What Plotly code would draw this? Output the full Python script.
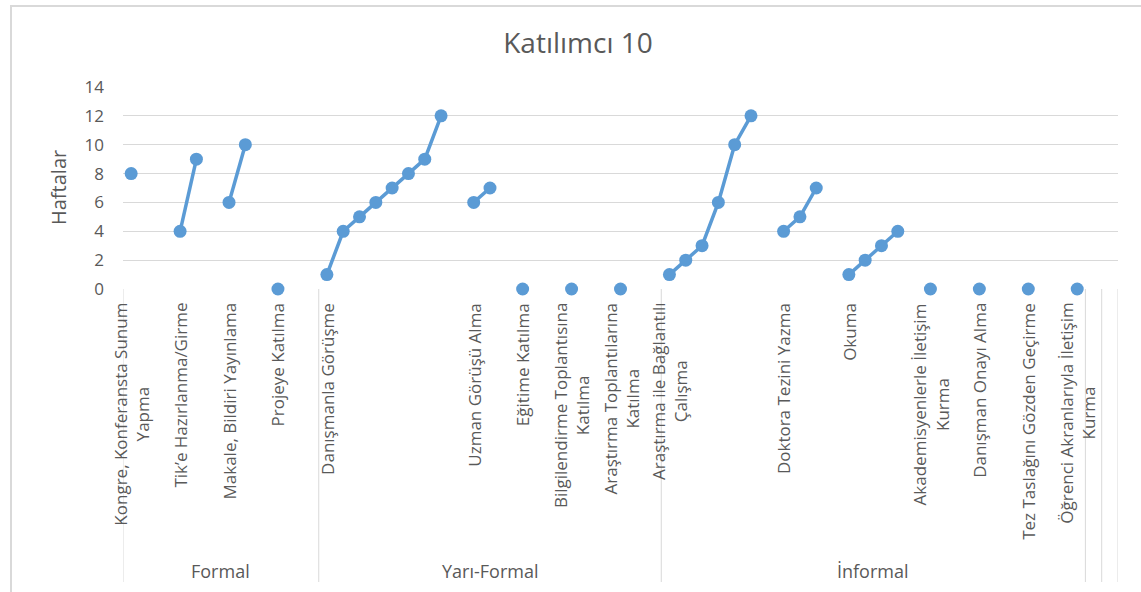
import plotly.graph_objects as go

# ---------------- data ----------------
# one entry per category row of the source sheet ("" = blank row)
categories = [
    "Kongre, Konferansta Sunum\nYapma", "", "",
    "Tik’e Hazırlanma/Girme", "", "",
    "Makale, Bildiri Yayınlama", "", "",
    "Projeye Katılma", "", "",
    "Danışmanla Görüşme", "", "", "", "", "", "", "", "",
    "Uzman Görüşü Alma", "", "",
    "Eğitime Katılma", "", "",
    "Bilgilendirme Toplantısına\nKatılma", "", "",
    "Araştırma Toplantılarına\nKatılma", "", "",
    "Araştırma ile Bağlantılı\nÇalışma", "", "", "", "", "", "",
    "Doktora Tezini Yazma", "", "", "",
    "Okuma", "", "", "", "",
    "Akademisyenlerle İletişim\nKurma", "", "",
    "Danışman Onayı Alma", "", "",
    "Tez Taslağını Gözden Geçirme", "", "",
    "Öğrenci Akranlarıyla İletişim\nKurma",
    "",
    "",
]
weeks = [
    8, None, None,
    4, 9, None,
    6, 10, None,
    0, None, None,
    1, 4, 5, 6, 7, 8, 9, 12, None,
    6, 7, None,
    0, None, None,
    0, None, None,
    0, None, None,
    1, 2, 3, 6, 10, 12, None,
    4, 5, 7, None,
    1, 2, 3, 4, None,
    0, None, None,
    0, None, None,
    0, None, None,
    0,
    None,
    None,
]
group_names = ["Formal", "Yarı-Formal", "İnformal", "", ""]
group_sizes = [12, 21, 26, 1, 1]
y_ticks = [0, 2, 4, 6, 8, 10, 12, 14]
title_text = "Katılımcı 10"
y_title = "Haftalar"

# ---------------- style / geometry ----------------
W, H = 1141, 592
ML, MR, MT, MB = 123, 23, 87, 303
PW, PH = W - ML - MR, H - MT - MB
FONT = "Open Sans"
TXT = "#595959"
GRID = "#d9d9d9"
BLUE = "#5b9bd5"


def ypap(py):
    return (H - MB - py) / PH


def xpap(px):
    return (px - ML) / PW


n = len(categories)
xs = list(range(n))

fig = go.Figure()
fig.add_trace(go.Scatter(
    x=xs, y=weeks, mode="lines+markers",
    line=dict(color=BLUE, width=3.5),
    marker=dict(color=BLUE, size=13),
    connectgaps=False, cliponaxis=False, showlegend=False,
    hoverinfo="x+y",
))

annotations = []
for i, lab in enumerate(categories):
    if lab:
        annotations.append(dict(
            x=i, xref="x", y=ypap(301), yref="paper",
            text=lab.replace("\n", "<br>"), textangle=-90,
            xanchor="center", yanchor="top", align="center",
            showarrow=False, font=dict(family=FONT, size=17, color=TXT),
        ))

shapes = []
start = -0.5
bounds = [start]
for name, size in zip(group_names, group_sizes):
    end = start + size
    if name:
        annotations.append(dict(
            x=(start + end) / 2, xref="x", y=ypap(571), yref="paper",
            text=name, xanchor="center", yanchor="middle", showarrow=False,
            font=dict(family=FONT, size=18, color=TXT),
        ))
    bounds.append(end)
    start = end
for b in bounds:
    shapes.append(dict(type="line", xref="x", yref="paper",
                       x0=b, x1=b, y0=0, y1=ypap(582),
                       line=dict(color=GRID, width=1)))

# chart border
shapes.append(dict(type="rect", xref="paper", yref="paper",
                   x0=xpap(11), x1=xpap(1150), y0=ypap(600), y1=ypap(6),
                   line=dict(color=GRID, width=2), layer="below"))

# y axis title
annotations.append(dict(
    x=xpap(58), xref="paper", y=ypap(188), yref="paper",
    text=y_title, textangle=-90, xanchor="center", yanchor="middle",
    showarrow=False, font=dict(family=FONT, size=20, color=TXT),
))

fig.update_layout(
    width=W, height=H, autosize=False,
    margin=dict(l=ML, r=MR, t=MT, b=MB, pad=0),
    paper_bgcolor="white", plot_bgcolor="white",
    title=dict(text=title_text, x=578 / W, xref="container", xanchor="center",
               y=1 - 43 / H, yref="container", yanchor="middle",
               font=dict(family=FONT, size=28, color=TXT)),
    xaxis=dict(range=[-0.5, n - 0.5], showgrid=False, zeroline=False,
               showline=False, showticklabels=False, ticks="", fixedrange=True),
    yaxis=dict(range=[0, 14], tickvals=y_ticks, showgrid=True, gridcolor=GRID,
               gridwidth=1, zeroline=False, showline=False, ticks="",
               ticklabelstandoff=18,
               tickfont=dict(family=FONT, size=17, color=TXT), fixedrange=True),
    annotations=annotations,
    shapes=shapes,
    font=dict(family=FONT, color=TXT),
)

fig.write_html("out.html")
